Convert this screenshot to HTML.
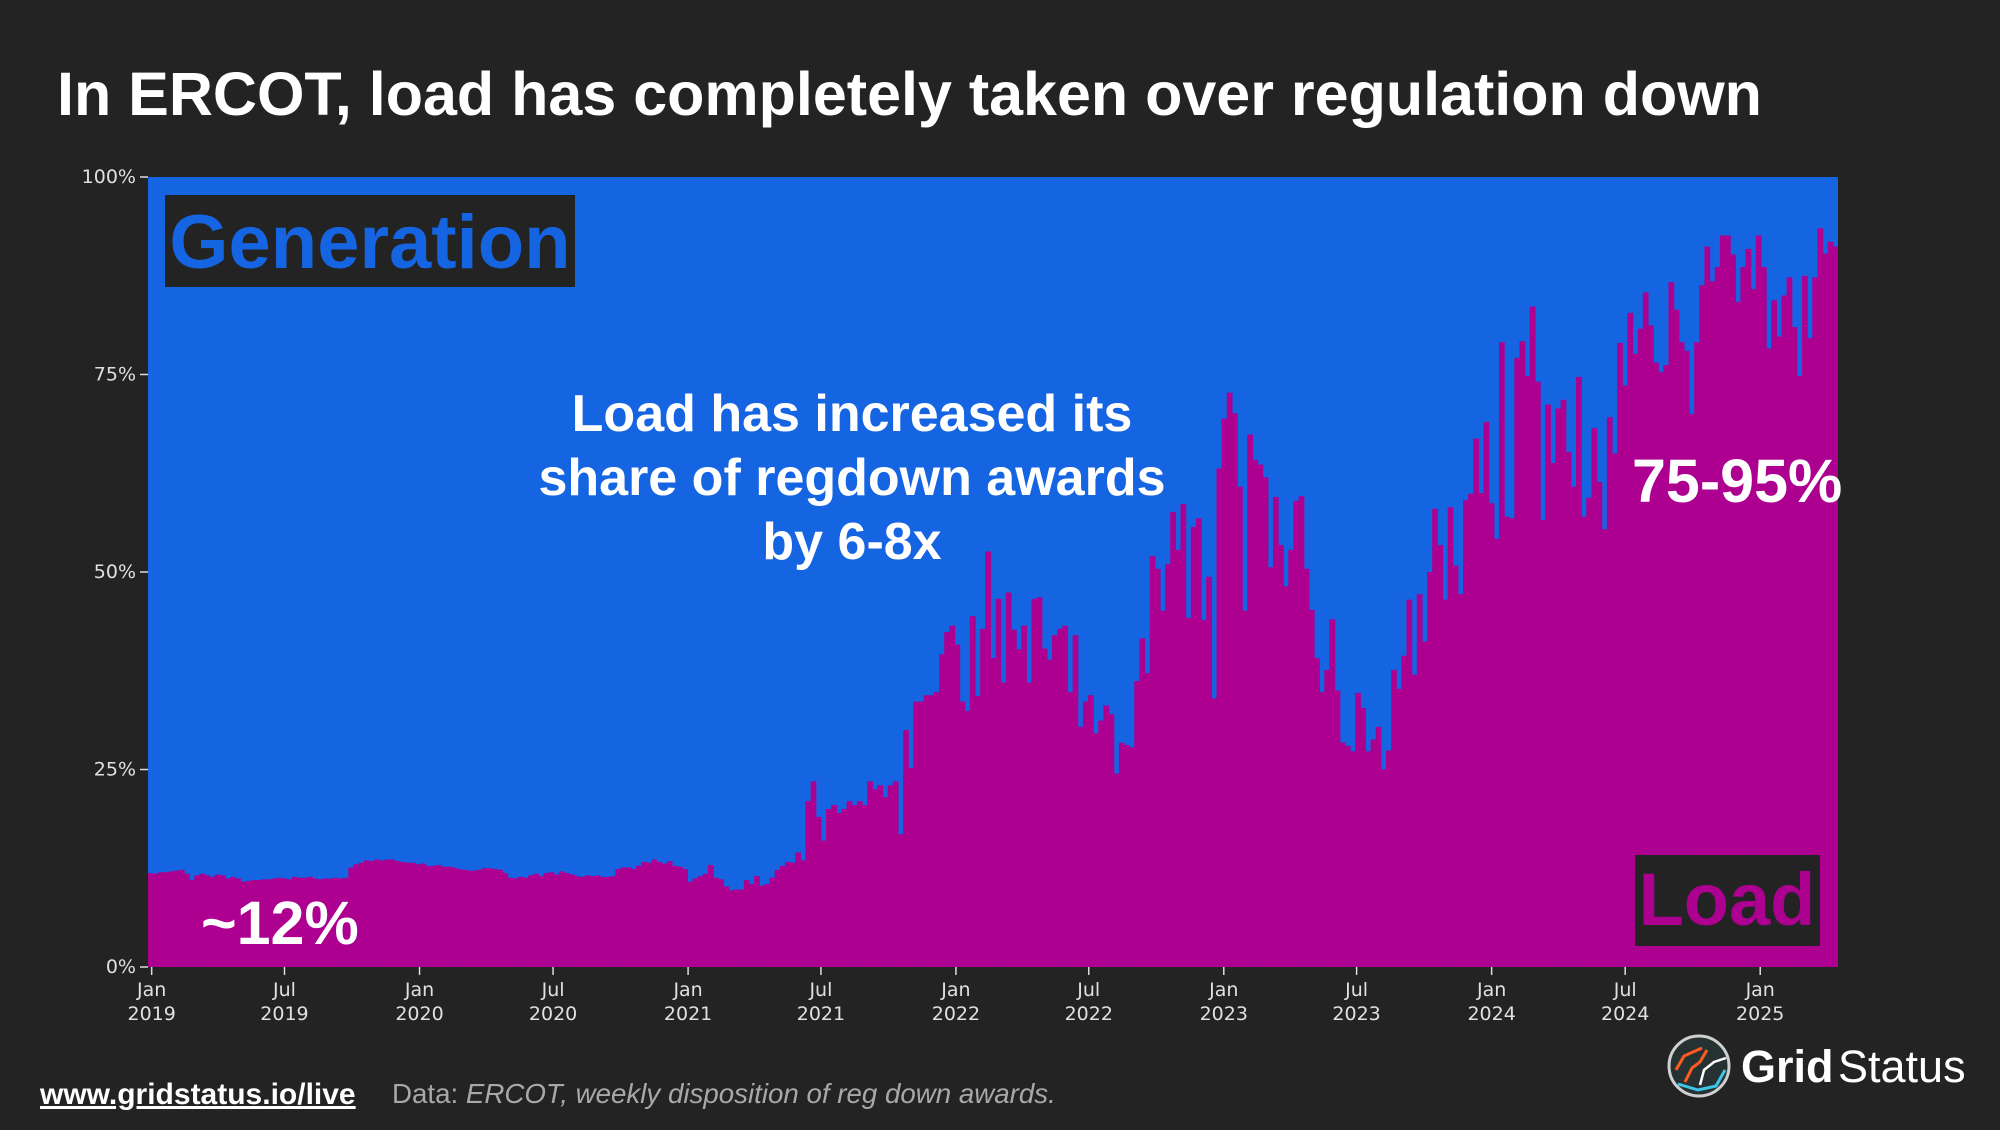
<!DOCTYPE html>
<html><head><meta charset="utf-8">
<style>
html,body{margin:0;padding:0;background:#232323;}
body{width:2000px;height:1125px;overflow:hidden;font-family:"Liberation Sans",sans-serif;}
svg text{font-family:"Liberation Sans",sans-serif;}
svg text.tick{font-family:"DejaVu Sans",sans-serif;}
</style></head>
<body>
<svg id="chart" width="2000" height="1125" viewBox="0 0 2000 1125" xmlns="http://www.w3.org/2000/svg">
<rect x="0" y="0" width="2000" height="1125" fill="#232323"/>
<text x="57" y="115" font-size="61" font-weight="bold" fill="#ffffff">In ERCOT, load has completely taken over regulation down</text>
<g id="plot"></g>
<g id="axes"></g>
<g>
<rect x="165" y="195" width="410" height="92" fill="#232323"/>
<text x="370" y="268" text-anchor="middle" font-size="76" font-weight="bold" fill="#1565e3">Generation</text>
</g>
<g>
<rect x="1635" y="855" width="185" height="91" fill="#232323"/>
<text x="1727" y="925" text-anchor="middle" font-size="74" font-weight="bold" fill="#ad0091">Load</text>
</g>
<text x="201" y="944" font-size="61" font-weight="bold" fill="#ffffff">~12%</text>
<text x="1632" y="502" font-size="61" font-weight="bold" fill="#ffffff">75-95%</text>
<g font-size="52" font-weight="bold" fill="#ffffff" text-anchor="middle">
<text x="852" y="431">Load has increased its</text>
<text x="852" y="495">share of regdown awards</text>
<text x="852" y="559">by 6-8x</text>
</g>
<text x="40" y="1104" font-size="30" font-weight="bold" fill="#ffffff" text-decoration="underline">www.gridstatus.io/live</text>
<text x="392" y="1103" font-size="27.7" fill="#a8a8a8">Data: <tspan font-style="italic">ERCOT, weekly disposition of reg down awards.</tspan></text>
<g>
<circle cx="1699" cy="1066" r="30" fill="#263232" stroke="#cfcfcf" stroke-width="3"/>
<path d="M1685 1082 L1692 1068 L1700 1062 L1707 1050" stroke="#ff5a1f" stroke-width="3" fill="none"/>
<path d="M1676 1070 L1684 1056 L1702 1048" stroke="#ff5a1f" stroke-width="3" fill="none"/>
<path d="M1700 1085 L1704 1070 L1714 1062 L1726 1058" stroke="#ffffff" stroke-width="2.5" fill="none"/>
<path d="M1678 1084 L1698 1090 L1716 1086 L1725 1070" stroke="#3ec5e8" stroke-width="3" fill="none"/>
<text x="1741" y="1082" font-size="45" font-weight="bold" fill="#ffffff">Grid</text>
<text x="1838" y="1082" font-size="45" fill="#ffffff">Status</text>
</g>
</svg>
<script>
const loadShare = [
11.9,11.8,12,12,12.1,12.2,12.3,11.8,
11,11.6,11.8,11.6,11.4,11.7,11.6,11.2,11.4,11.2,10.8,
10.9,11,11,11.1,11.1,11.2,11.3,11.2,11.1,11.4,11.3,11.3,11.4,11.2,11.1,11.2,11.2,11.3,11.2,11.3,
12.6,13,13.2,13.5,13.4,13.6,13.5,13.6,13.6,13.4,13.3,13.2,13.2,13.0,13.1,12.8,12.8,12.9,12.7,12.7,12.6,12.4,
12.3,12.2,12.2,12.3,12.5,12.5,12.4,12.3,11.9,11.3,11.2,11.4,11.3,11.6,11.8,11.5,11.9,12.0,11.7,12.1,11.9,11.7,11.5,11.4,11.6,11.5,11.6,11.4,11.4,11.5,
12.4,12.6,12.6,12.4,12.8,13.3,13.2,13.6,13.3,13.1,13.4,12.8,12.7,12.4,
10.8,11.2,11.5,11.8,12.9,11.3,11.1,10.2,9.7,9.8,
9.8,11,10.5,11.5,10.3,10.5,
11.3,12.3,12.8,13.3,13.2,14.5,13.5,
21,23.5,19,16,20,20.5,19.5,20,21,20.5,21,20.5,23.5,22.5,23,21.5,23,23.5,
16.8,30.0,25.2,33.6,33.6,34.4,34.4,34.8,39.6,42.4,43.2,40.8,33.6,32.4,44.4,34.3,42.8,52.6,39.1,46.6,36.0,47.4,42.7,40.2,43.2,36.0,46.6,46.8,40.3,38.9,42.0,42.8,43.2,34.8,42.0,30.4,33.6,34.4,29.6,31.2,33.1,32.0,24.5,28.4,28.1,27.8,36.2,41.6,37.2,52.0,50.4,45.1,51.0,57.6,52.8,58.6,44.2,55.7,56.8,43.9,49.4,34.0,63.1,69.4,72.7,70.1,60.8,45.1,67.4,64.2,63.6,62.0,50.6,59.5,53.4,48.2,52.8,59.0,59.6,50.4,45.2,39.1,34.8,37.6,44.0,35.0,28.4,
28,27.3,34.7,32.8,27.3,28.8,30.4,25,27.4,37.6,35.2,39.4,46.5,37,47.2,41.2,50,58,53.4,46.5,58.2,50.8,47.2,59.1,59.9,66.9,60,69,58.7,54.2,79.1,57,56.8,77.1,79.2,74.8,83.6,74.1,56.6,71.2,63.8,70.7,71.8,65.2,60.8,74.7,57,59.4,68.2,61.4,55.4,69.6,65,79,73.6,82.8,77.6,80.8,85.4,81.2,76.5,75.3,76.2,86.7,83.2,79.1,78,70,79.1,86.3,91.2,86.8,88.6,92.6,92.6,90.2,84.2,88.6,90.9,85.8,92.6,88.6,78.3,84.4,79.8,85,87.3,81,74.8,87.5,79.6,87.3,93.5,90.3,91.8,91.2
];
const yTickValues = [0,25,50,75,100];
const yTickLabels = ["0%","25%","50%","75%","100%"];
const xTickDates = ["2019-01-01","2019-07-01","2020-01-01","2020-07-01","2021-01-01","2021-07-01","2022-01-01","2022-07-01","2023-01-01","2023-07-01","2024-01-01","2024-07-01","2025-01-01"];
const xTickMonths = ["Jan","Jul","Jan","Jul","Jan","Jul","Jan","Jul","Jan","Jul","Jan","Jul","Jan"];
const xTickYears = ["2019","2019","2020","2020","2021","2021","2022","2022","2023","2023","2024","2024","2025"];
const startDate = "2018-12-27";

const NS = "http://www.w3.org/2000/svg";
const L = 148, R = 1838, T = 177, B = 967;
const n = loadShare.length;
const t0 = Date.parse(startDate);
const WEEK = 7*86400000;
const t1 = t0 + n*WEEK;
function xScale(t){ return L + (t - t0)/(t1 - t0)*(R - L); }
function yScale(v){ return B - v/100*(B - T); }
function mk(tag, attrs){ const e = document.createElementNS(NS, tag); for (const k in attrs) e.setAttribute(k, attrs[k]); return e; }

const plot = document.getElementById('plot');
const gen = mk('rect', {x:L, y:T, width:R-L, height:B-T, fill:'#1565e3'});


plot.appendChild(gen);
for (let i = 0; i < n; i++) {
  const xa = xScale(t0 + i*WEEK), xb = xScale(t0 + (i+1)*WEEK);
  const y = yScale(loadShare[i]);
  const r = mk('rect', {x:xa.toFixed(2), y:y.toFixed(2), width:(Math.min(xb+0.6,R)-xa).toFixed(2), height:(B-y).toFixed(2), fill:'#ad0091'});
  
  
  plot.appendChild(r);
}
const axes = document.getElementById('axes');
yTickValues.forEach((v, i) => {
  const y = yScale(v);
  const tk = mk('line', {x1:L-8, y1:y, x2:L, y2:y, stroke:'#dddddd', 'stroke-width':1.5});
  
  
  axes.appendChild(tk);
  const tx = mk('text', {x:L-12, y:y+6, 'text-anchor':'end', 'font-size':19, fill:'#e0e0e0', class:'tick'});
  tx.textContent = yTickLabels[i];
  
  
  axes.appendChild(tx);
});
xTickDates.forEach((d, i) => {
  const x = xScale(Date.parse(d));
  const tk = mk('line', {x1:x, y1:B, x2:x, y2:B+8, stroke:'#dddddd', 'stroke-width':1.5});
  
  
  axes.appendChild(tk);
  const tx = mk('text', {x:x, y:B+29, 'text-anchor':'middle', 'font-size':19, fill:'#e0e0e0', class:'tick'});
  
  
  const a = mk('tspan', {x:x, dy:0}); a.textContent = xTickMonths[i];
  const b = mk('tspan', {x:x, dy:24}); b.textContent = xTickYears[i];
  tx.appendChild(a); tx.appendChild(b);
  axes.appendChild(tx);
});
</script>
</body></html>
